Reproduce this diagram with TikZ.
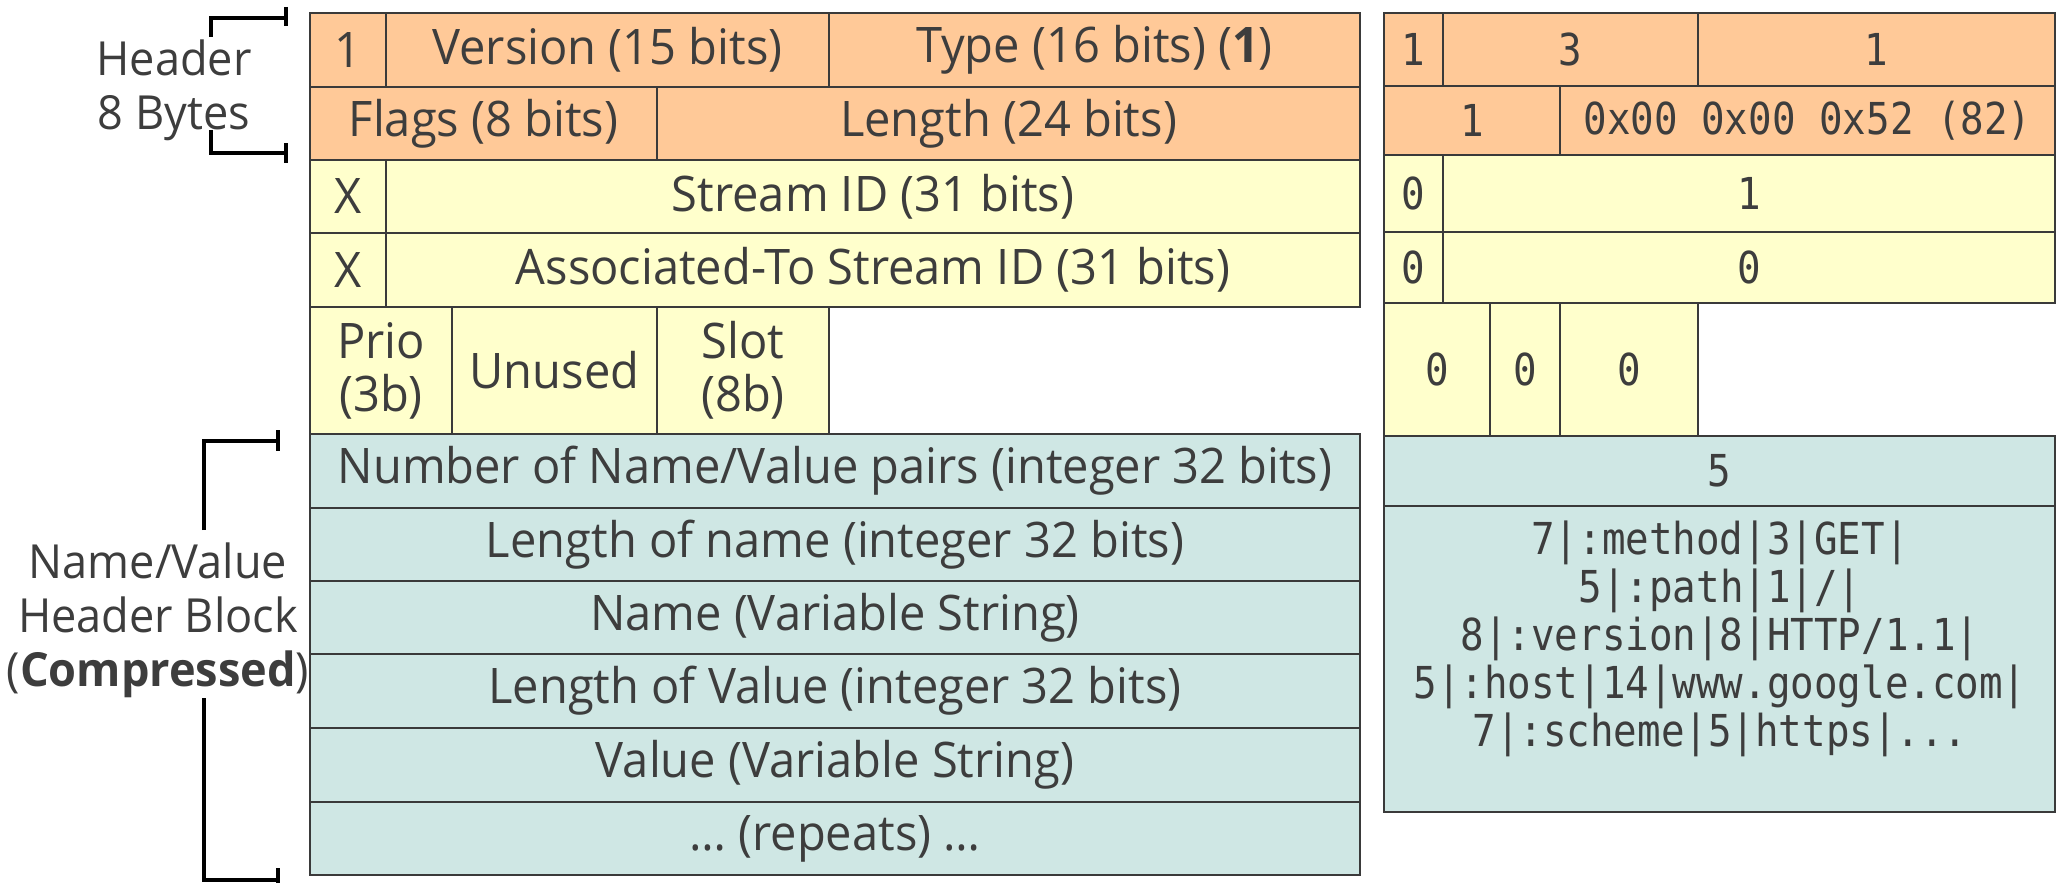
\documentclass[tikz,border=0pt]{standalone}
\usepackage{fontspec}
\setmainfont[FakeStretch=0.96]{Open Sans}
\newfontfamily\monofnt[FakeStretch=0.89]{DejaVu Sans Mono}
\definecolor{txt}{HTML}{3D3D3D}
\definecolor{orng}{HTML}{FFC998}
\definecolor{yell}{HTML}{FFFFCC}
\definecolor{teal}{HTML}{CFE7E4}
\definecolor{linec}{HTML}{3A3A3A}
\tikzset{
  cell/.style={draw=linec, line width=1.5pt, inner sep=0pt, outer sep=0pt,
    anchor=north west, text=txt, align=center,
    font=\fontsize{49}{53}\selectfont},
  mcell/.style={cell, font=\monofnt\fontsize{44}{48}\selectfont},
  brk/.style={draw=black, line width=4pt},
  lbl/.style={text=txt, align=center, inner sep=0pt, font=\fontsize{47}{54}\selectfont}
}
\newcommand{\cellat}[7]{% style, fill, name, x1, y1, x2, y2 ; text follows
  \node[#1, fill=#2, minimum width={(#6-#4)*1pt}, minimum height={(#7-#5)*1pt}] (#3) at (#4,#5)}
\begin{document}
\begin{tikzpicture}[x=1pt,y=-1pt]
\useasboundingbox (0,0) rectangle (2059,883);
% ---------------- left table ----------------
\cellat{cell}{orng}{lone}{310}{13}{386}{87} {1};
\cellat{cell}{orng}{lver}{386}{13}{829}{87} {Version (15 bits)};
\cellat{cell}{orng}{ltype}{829}{13}{1360}{87} {Type (16 bits) (\textbf{1})};
\cellat{cell}{orng}{lflags}{310}{87}{657}{160} {Flags (8 bits)};
\cellat{cell}{orng}{llen}{657}{87}{1360}{160} {Length (24 bits)};
\cellat{cell}{yell}{lx1}{310}{160}{386}{233} {X};
\cellat{cell}{yell}{lsid}{386}{160}{1360}{233} {Stream ID (31 bits)};
\cellat{cell}{yell}{lx2}{310}{233}{386}{307} {X};
\cellat{cell}{yell}{lasid}{386}{233}{1360}{307} {Associated-To Stream ID (31 bits)};
\cellat{cell}{yell}{lprio}{310}{307}{452}{434} {Prio\\(3b)};
\cellat{cell}{yell}{lunused}{452}{307}{657}{434} {Unused};
\cellat{cell}{yell}{lslot}{657}{307}{829}{434} {Slot\\(8b)};
\cellat{cell}{teal}{lnum}{310}{434}{1360}{508} {Number of Name/Value pairs (integer 32 bits)};
\cellat{cell}{teal}{llname}{310}{508}{1360}{581} {Length of name (integer 32 bits)};
\cellat{cell}{teal}{lname}{310}{581}{1360}{654} {Name (Variable String)};
\cellat{cell}{teal}{llval}{310}{654}{1360}{728} {Length of Value (integer 32 bits)};
\cellat{cell}{teal}{lval}{310}{728}{1360}{802} {Value (Variable String)};
\cellat{cell}{teal}{lrep}{310}{802}{1360}{875} {\dots{} (repeats) \dots};
% ---------------- right table ----------------
\cellat{mcell}{orng}{rone}{1384}{13}{1443}{86} {1};
\cellat{mcell}{orng}{rver}{1443}{13}{1698}{86} {3};
\cellat{mcell}{orng}{rtype}{1698}{13}{2055}{86} {1};
\cellat{mcell}{orng}{rflags}{1384}{86}{1560}{155} {1};
\cellat{mcell}{orng}{rlen}{1560}{86}{2055}{155} {0x00 0x00 0x52 (82)};
\cellat{mcell}{yell}{rx1}{1384}{155}{1443}{232} {0};
\cellat{mcell}{yell}{rsid}{1443}{155}{2055}{232} {1};
\cellat{mcell}{yell}{rx2}{1384}{232}{1443}{303} {0};
\cellat{mcell}{yell}{rasid}{1443}{232}{2055}{303} {0};
\cellat{mcell}{yell}{rprio}{1384}{303}{1490}{436} {0};
\cellat{mcell}{yell}{runused}{1490}{303}{1560}{436} {0};
\cellat{mcell}{yell}{rslot}{1560}{303}{1698}{436} {0};
\cellat{mcell}{teal}{rnum}{1384}{436}{2055}{506} {5};
\cellat{mcell}{teal}{rblock}{1384}{506}{2055}{812} {};
\node[text=txt, align=center, inner sep=0pt, anchor=north,
  font=\monofnt\fontsize{44}{48}\selectfont] (rtext) at (1720,521)
  {7|:method|3|GET|\\5|:path|1|/|\\8|:version|8|HTTP/1.1|\\5|:host|14|www.google.com|\\7|:scheme|5|https|...};
% ---------------- labels & brackets ----------------
\node[lbl] (hdr) at (174,90) {Header\\8 Bytes};
\node[lbl] (nvb) at (158,620) {Name/Value\\Header Block\\(\textbf{Compressed})};
\coordinate (ht1) at (286,7);   \coordinate (ht2) at (286,26);
\coordinate (hb1) at (286,143); \coordinate (hb2) at (286,163);
\draw[brk] (ht1) -- (ht2);
\draw[brk] (211,37) -- (211,17.7) -- (286,17.7);
\draw[brk] (211,130) -- (211,152.7) -- (286,152.7);
\draw[brk] (hb1) -- (hb2);
\coordinate (nt1) at (278,430); \coordinate (nt2) at (278,451);
\coordinate (nb1) at (278,868); \coordinate (nb2) at (278,892);
\draw[brk] (nt1) -- (nt2);
\draw[brk] (204,530) -- (204,440.7) -- (278,440.7);
\draw[brk] (204,698) -- (204,880) -- (278,880);
\draw[brk] (nb1) -- (nb2);
\end{tikzpicture}
\end{document}
